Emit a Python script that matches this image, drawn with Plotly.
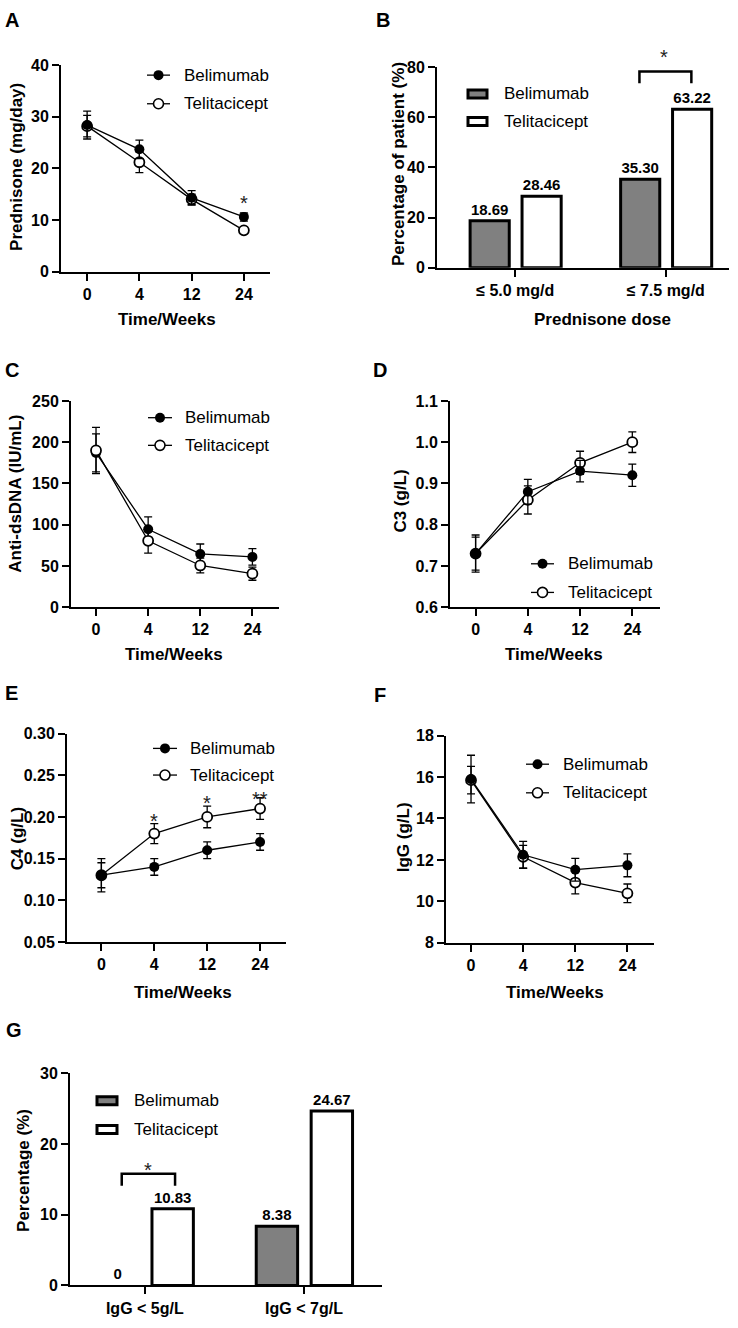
import plotly.graph_objects as go

W, H = 738, 1328
FONT = "Arial, Liberation Sans, Helvetica, sans-serif"

# ---------------- data ----------------
weeks = ["0", "4", "12", "24"]

# A: prednisone dose (mg/day)
pred_bel = [28.4, 23.7, 14.3, 10.6]
pred_bel_err = [2.7, 1.8, 1.4, 0.8]
pred_tel = [28.2, 21.2, 14.0, 8.0]
pred_tel_err = [2.1, 2.0, 1.0, 0.5]

# B: percentage of patients by prednisone dose
dose_cats = ["≤ 5.0 mg/d", "≤ 7.5 mg/d"]
dose_bel = [18.69, 35.30]
dose_tel = [28.46, 63.22]

# C: anti-dsDNA (IU/mL)
dsdna_bel = [187, 94.5, 64.6, 61.0]
dsdna_bel_err = [23, 15, 12, 10]
dsdna_tel = [190, 80.5, 50.6, 40.7]
dsdna_tel_err = [28, 15, 9, 8]

# D: C3 (g/L)
c3_bel = [0.73, 0.88, 0.93, 0.92]
c3_bel_err = [0.045, 0.03, 0.026, 0.027]
c3_tel = [0.73, 0.86, 0.95, 1.00]
c3_tel_err = [0.04, 0.034, 0.028, 0.025]

# E: C4 (g/L)
c4_bel = [0.13, 0.14, 0.16, 0.17]
c4_bel_err = [0.02, 0.01, 0.01, 0.01]
c4_tel = [0.13, 0.18, 0.20, 0.21]
c4_tel_err = [0.015, 0.012, 0.013, 0.013]

# F: IgG (g/L)
igg_bel = [15.9, 12.25, 11.53, 11.74]
igg_bel_err = [1.15, 0.65, 0.55, 0.55]
igg_tel = [15.85, 12.15, 10.91, 10.39]
igg_tel_err = [0.66, 0.55, 0.55, 0.45]

# G: percentage with low IgG
igg_cats = ["IgG < 5g/L", "IgG < 7g/L"]
low_bel = [0, 8.38]
low_tel = [10.83, 24.67]

# ---------------- helpers ----------------
def fx(px):
    return px / W


def fy(py):
    return 1 - py / H


fig = go.Figure()
layout = dict(
    width=W, height=H, margin=dict(l=0, r=0, t=0, b=0),
    paper_bgcolor="white", plot_bgcolor="white",
    font=dict(family=FONT, color="black"),
    showlegend=False, barmode="overlay", hovermode=False,
)
shapes = []
annotations = []


def axes(n, xdom, ydom, xrange, yrange, ytickvals, ytickformat, xcat=True,
         xtickvals=None, xticktext=None):
    sx = "" if n == 1 else str(n)
    xa = dict(
        domain=[fx(xdom[0]), fx(xdom[1])], range=list(xrange), anchor="y" + sx,
        showline=True, linecolor="black", linewidth=2, mirror=False,
        ticks="outside", ticklen=7, tickwidth=2, tickcolor="black",
        showgrid=False, zeroline=False, fixedrange=True,
        tickfont=dict(size=16, weight="bold", family=FONT),
    )
    if xcat:
        xa["type"] = "category"
    else:
        xa.update(tickmode="array", tickvals=xtickvals, ticktext=xticktext)
    ya = dict(
        domain=[fy(ydom[1]), fy(ydom[0])], range=list(yrange), anchor="x" + sx,
        showline=True, linecolor="black", linewidth=2,
        ticks="outside", ticklen=7, tickwidth=2, tickcolor="black",
        tickmode="array", tickvals=ytickvals,
        showgrid=False, zeroline=False, fixedrange=True,
        tickfont=dict(size=16, weight="bold", family=FONT),
    )
    if ytickformat:
        ya["tickformat"] = ytickformat
    layout["xaxis" + sx] = xa
    layout["yaxis" + sx] = ya


def ref(n):
    return ("x", "y") if n == 1 else ("x%d" % n, "y%d" % n)


def line_trace(n, y, err, filled):
    xr, yr = ref(n)
    return go.Scatter(
        x=weeks, y=y, mode="lines+markers", xaxis=xr, yaxis=yr,
        line=dict(color="black", width=1.3),
        marker=dict(size=10, color="black" if filled else "white",
                    line=dict(color="black", width=0 if filled else 1.8)),
        error_y=dict(type="data", array=err, visible=True, color="black",
                     thickness=1.3, width=4),
        cliponaxis=False,
    )


def add_lines(n, bel, bel_err, tel, tel_err, tel_on_top=False):
    tb = line_trace(n, bel, bel_err, True)
    tt = line_trace(n, tel, tel_err, False)
    if tel_on_top:
        fig.add_trace(tb)
        fig.add_trace(tt)
    else:
        fig.add_trace(tt)
        fig.add_trace(tb)


def bar_label(v):
    return "0" if v == 0 else "%.2f" % v


def add_bars(n, cats, bel, tel):
    xr, yr = ref(n)
    xpos = list(range(len(cats)))
    for vals, col, off in [(bel, "#808080", -0.30), (tel, "white", 0.045)]:
        fig.add_trace(go.Bar(
            x=xpos, y=vals, xaxis=xr, yaxis=yr, width=0.26, offset=off,
            marker=dict(color=col, line=dict(color="black",
                                             width=[0 if v == 0 else 3 for v in vals])),
            text=[bar_label(v) for v in vals], textposition="outside",
            textfont=dict(size=15, weight="bold", family=FONT, color="black"),
            cliponaxis=False,
        ))


def text(x, y, s, size=17, bold=True, angle=0, xanchor="center", color="black"):
    annotations.append(dict(
        x=fx(x), y=fy(y), xref="paper", yref="paper", text=s, showarrow=False,
        textangle=angle, xanchor=xanchor, yanchor="middle",
        font=dict(size=size, weight="bold" if bold else "normal", family=FONT, color=color),
    ))


def line_legend(x0, x1, xt, ybel, ytel):
    for name, y, fill in [("Belimumab", ybel, "black"), ("Telitacicept", ytel, "white")]:
        shapes.append(dict(type="line", xref="paper", yref="paper",
                           x0=fx(x0), x1=fx(x1), y0=fy(y), y1=fy(y),
                           line=dict(color="black", width=1.3)))
        shapes.append(dict(type="circle", xref="paper", yref="paper",
                           xsizemode="pixel", ysizemode="pixel",
                           xanchor=fx((x0 + x1) / 2), yanchor=fy(y),
                           x0=-5, x1=5, y0=-5, y1=5, fillcolor=fill,
                           line=dict(color="black", width=1.6 if fill == "white" else 0)))
        text(xt, y, name, size=17, bold=False, xanchor="left")


def bar_legend(x0, x1, xt, ybel, ytel):
    for name, y, fill in [("Belimumab", ybel, "#808080"), ("Telitacicept", ytel, "white")]:
        shapes.append(dict(type="rect", xref="paper", yref="paper",
                           xsizemode="pixel", ysizemode="pixel",
                           xanchor=fx((x0 + x1) / 2), yanchor=fy(y),
                           x0=-(x1 - x0) / 2, x1=(x1 - x0) / 2, y0=-4, y1=4,
                           fillcolor=fill, line=dict(color="black", width=3)))
        text(xt, y, name, size=17, bold=False, xanchor="left")


def star(n, xi, y, s="*"):
    xr, yr = ref(n)
    annotations.append(dict(x=xi, y=y, xref=xr, yref=yr, text=s, showarrow=False,
                            yanchor="middle", yshift=-5,
                            font=dict(size=20, family=FONT, color="#222")))


def bracket(n, x0, x1, ylow, yhigh):
    xr, yr = ref(n)
    shapes.append(dict(type="path", xref=xr, yref=yr,
                       path="M %g,%g L %g,%g L %g,%g L %g,%g" % (x0, ylow, x0, yhigh, x1, yhigh, x1, ylow),
                       line=dict(color="black", width=2.5)))


# ---------------- Panel A ----------------
axes(1, (61, 270), (58, 267), (-0.5, 3.5), (0, 40), [0, 10, 20, 30, 40], None)
add_lines(1, pred_bel, pred_bel_err, pred_tel, pred_tel_err)
star(1, weeks.index("24"), 14.3)
line_legend(147, 170, 182, 68, 97)
text(167, 316, "Time/Weeks")
text(17, 161, "Prednisone (mg/day)", angle=-90)
text(3, 12, "A", size=20, xanchor="left")

# ---------------- Panel B ----------------
axes(2, (437, 729), (60, 263), (-0.52, 1.42), (0, 80), [0, 20, 40, 60, 80], None,
     xcat=False, xtickvals=list(range(len(dose_cats))), xticktext=dose_cats)
add_bars(2, dose_cats, dose_bel, dose_tel)
bracket(2, 1 - 0.175, 1 + 0.17, 73.6, 78.3)
text(664, 50, "*", size=20, bold=False, color="#222")
bar_legend(468, 487, 502, 87, 115)
text(602, 316, "Prednisone dose")
text(399, 158, "Percentage of patient (%)", angle=-90)
text(374, 12, "B", size=20, xanchor="left")

# ---------------- Panel C ----------------
axes(3, (71, 279), (398, 607), (-0.48, 3.51), (0, 250), [0, 50, 100, 150, 200, 250], None)
add_lines(3, dsdna_bel, dsdna_bel_err, dsdna_tel, dsdna_tel_err, tel_on_top=True)
line_legend(148, 172, 183, 415, 443)
text(174, 655, "Time/Weeks")
text(16, 492, "Anti-dsDNA (IU/mL)", angle=-90)
text(3, 367, "C", size=20, xanchor="left")

# ---------------- Panel D ----------------
axes(4, (450, 660), (398, 607), (-0.49, 3.53), (0.6, 1.1), [0.6, 0.7, 0.8, 0.9, 1.0, 1.1], ".1f")
add_lines(4, c3_bel, c3_bel_err, c3_tel, c3_tel_err)
line_legend(531, 554, 566, 563, 592)
text(554, 655, "Time/Weeks")
text(401, 500, "C3 (g/L)", angle=-90)
text(371, 367, "D", size=20, xanchor="left")

# ---------------- Panel E ----------------
axes(5, (67, 286), (735, 946), (-0.65, 3.49), (0.05, 0.30),
     [0.05, 0.10, 0.15, 0.20, 0.25, 0.30], ".2f")
add_lines(5, c4_bel, c4_bel_err, c4_tel, c4_tel_err)
star(5, weeks.index("4"), 0.2015)
star(5, weeks.index("12"), 0.223)
star(5, weeks.index("24"), 0.228, "**")
line_legend(153, 177, 188, 750, 777)
text(183, 997, "Time/Weeks")
text(17, 842, "C4 (g/L)", angle=-90)
text(3, 694, "E", size=20, xanchor="left")

# ---------------- Panel F ----------------
axes(6, (446, 654), (737, 947), (-0.48, 3.51), (8, 18), [8, 10, 12, 14, 16, 18], None)
add_lines(6, igg_bel, igg_bel_err, igg_tel, igg_tel_err)
line_legend(526, 549, 561, 766, 795)
text(555, 997, "Time/Weeks")
text(403, 840, "IgG (g/L)", angle=-90)
text(372, 696, "F", size=20, xanchor="left")

# ---------------- Panel G ----------------
axes(7, (70, 382), (1079, 1294), (-0.47, 1.49), (0, 30), [0, 10, 20, 30], None,
     xcat=False, xtickvals=list(range(len(igg_cats))), xticktext=igg_cats)
add_bars(7, igg_cats, low_bel, low_tel)
bracket(7, -0.145, 0.19, 14.1, 15.8)
star(7, 0.02, 17.0)
bar_legend(97, 117, 132, 1107, 1136)
text(24, 1178, "Percentage (%)", angle=-90)
text(4, 1035, "G", size=20, xanchor="left")

layout["shapes"] = shapes
layout["annotations"] = annotations
fig.update_layout(**layout)
fig.write_html(
    "out.html",
    config={"displayModeBar": False, "staticPlot": True},
    post_script="document.body.style.margin='0';document.body.style.overflow='hidden';",
)
